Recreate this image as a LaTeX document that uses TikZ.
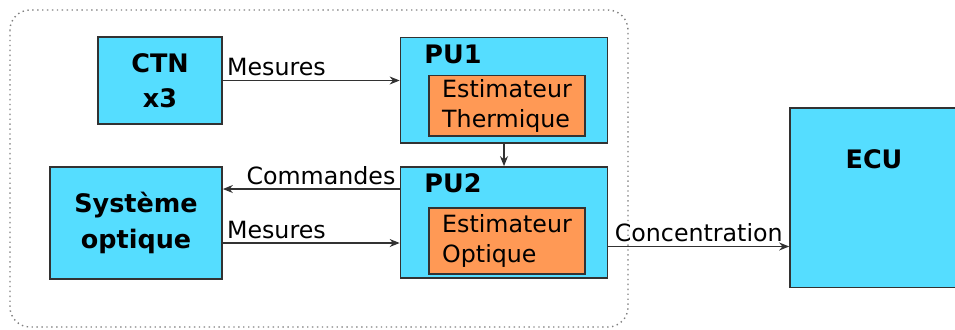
\documentclass[tikz,border=0pt]{standalone}
\usepackage{fontspec}
\setmainfont{DejaVu Sans}
\usepackage{xcolor}
\usetikzlibrary{positioning,arrows.meta}

\definecolor{boxcyan}{RGB}{85,221,255}
\definecolor{boxorange}{RGB}{255,153,85}
\definecolor{edgegray}{RGB}{50,50,50}

\begin{document}
\begin{tikzpicture}[x=0.02cm, y=-0.02cm,
  blk/.style={draw=edgegray, line width=1pt, fill=boxcyan, inner sep=0pt,
              font=\fontsize{14.5}{20}\selectfont\bfseries, align=center},
  est/.style={draw=edgegray, line width=1pt, fill=boxorange, inner sep=0pt,
              minimum width=3.12cm, font=\fontsize{13.5}{17}\selectfont, align=left},
  ttl/.style={font=\fontsize{14.5}{17}\selectfont\bfseries, inner sep=0pt},
  lbl/.style={font=\fontsize{13.5}{15}\selectfont, inner sep=2pt},
  arr/.style={-{Stealth[length=2mm, width=1.6mm]}, line width=0.8pt, draw=edgegray},
  frame/.style={draw=gray, line width=0.8pt, dotted, rounded corners=0.4cm},
]
  \useasboundingbox (0,0) rectangle (955,329);
  % cadre du systeme embarque
  \draw[frame] (10,10) rectangle (628,327);

  \node[blk, minimum width=2.48cm, minimum height=1.74cm] (ctn) at (160,80.5) {CTN\\x3};
  \node[blk, minimum width=3.44cm, minimum height=2.24cm] (opt) at (136,223) {Système\\optique};
  \node[blk, minimum width=4.14cm, minimum height=2.11cm] (pu1) at (504,90.25) {};
  \node[blk, minimum width=4.14cm, minimum height=2.22cm] (pu2) at (504,222.5) {};
  \node[blk, minimum width=3.36cm, minimum height=3.59cm] (ecu) at (874,197.75) {};

  \node[ttl, anchor=west] (pu1t) at ([xshift=0.49cm, yshift=-0.35cm]pu1.north west) {PU1};
  \node[ttl, anchor=west] (pu2t) at ([xshift=0.49cm, yshift=-0.35cm]pu2.north west) {PU2};
  \node[ttl] (ecut) at ([yshift=-1.05cm]ecu.north) {ECU};

  \node[est, minimum height=1.21cm] (estth) at (507,105.75) {Estimateur\\Thermique};
  \node[est, minimum height=1.32cm] (estop) at (507,241) {Estimateur\\Optique};

  \draw[arr] (ctn.east) -- (ctn.east -| pu1.west)
    node[lbl, pos=0, anchor=south west] {Mesures};
  \draw[arr] (pu1) -- (pu2);
  \draw[arr] ([yshift=0.67cm]pu2.west) -- ([yshift=0.67cm]pu2.west -| opt.east)
    node[lbl, pos=0, anchor=south east] {Commandes};
  \draw[arr] ([yshift=-0.41cm]pu2.west -| opt.east) -- ([yshift=-0.41cm]pu2.west)
    node[lbl, pos=0, anchor=south west] {Mesures};
  \draw[arr] ([yshift=-0.48cm]pu2.east) -- ([yshift=-0.48cm]pu2.east -| ecu.west)
    node[lbl, midway, above] {Concentration};
\end{tikzpicture}
\end{document}
